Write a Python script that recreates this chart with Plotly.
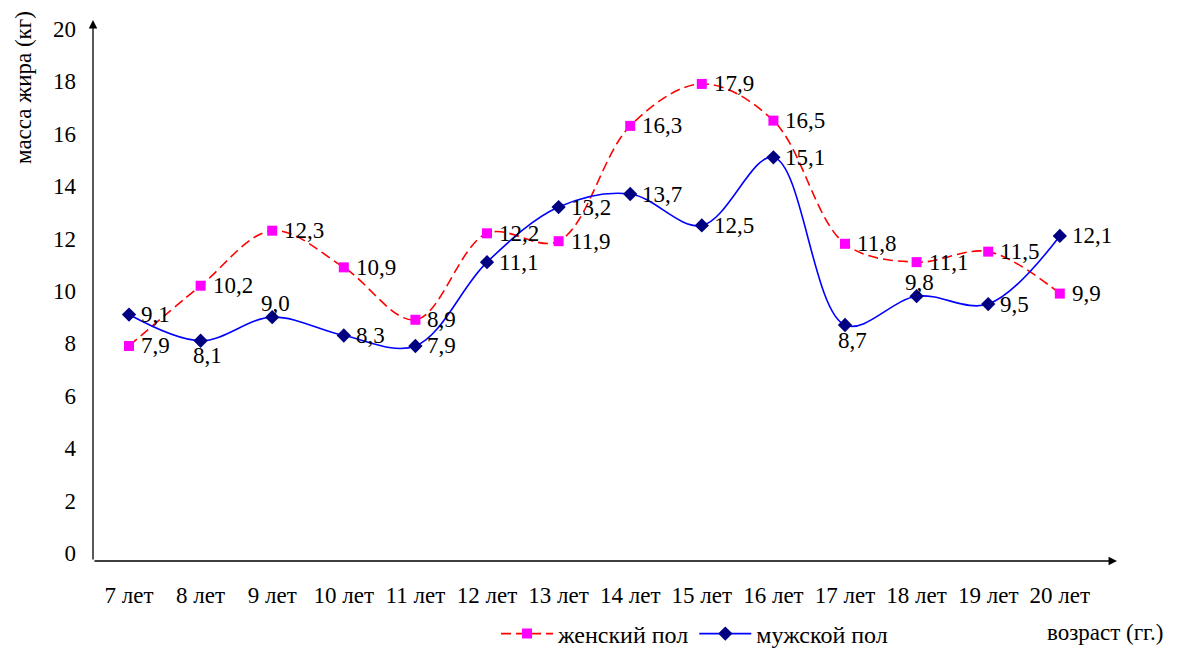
import plotly.graph_objects as go

# Возраст (категории оси X)
ages = ["7 лет", "8 лет", "9 лет", "10 лет", "11 лет", "12 лет", "13 лет",
        "14 лет", "15 лет", "16 лет", "17 лет", "18 лет", "19 лет", "20 лет"]

# Масса жира, кг
female = [7.9, 10.2, 12.3, 10.9, 8.9, 12.2, 11.9, 16.3, 17.9, 16.5, 11.8, 11.1, 11.5, 9.9]
male = [9.1, 8.1, 9.0, 8.3, 7.9, 11.1, 13.2, 13.7, 12.5, 15.1, 8.7, 9.8, 9.5, 12.1]

y_ticks = [0, 2, 4, 6, 8, 10, 12, 14, 16, 18, 20]

# Положение подписей значений: r — справа, t — сверху, b — снизу
female_pos = ["r"] * len(female)
male_pos = ["r"] * len(male)
male_pos[1] = "b"
male_pos[2] = "t"
male_pos[10] = "b"
male_pos[11] = "t"

FONT = "Liberation Serif, Times New Roman, serif"
FS = 23


def fmt(v):
    return f"{v:.1f}".replace(".", ",")


fig = go.Figure()

fig.add_trace(go.Scatter(
    x=ages, y=female, name="женский пол",
    mode="lines+markers",
    line=dict(color="#FF0000", width=1.6, dash="10px,5px", shape="spline", smoothing=1.0),
    marker=dict(symbol="square", size=10, color="#FF00FF"),
))

fig.add_trace(go.Scatter(
    x=ages, y=male, name="мужской пол",
    mode="lines+markers",
    line=dict(color="#0000FF", width=1.6, shape="spline", smoothing=1.0),
    marker=dict(symbol="diamond", size=11, color="#000080"),
))

# Подписи значений у точек
for series, positions in ((female, female_pos), (male, male_pos)):
    for age, v, p in zip(ages, series, positions):
        if p == "r":
            kw = dict(xanchor="left", yanchor="middle", xshift=11, yshift=0)
        elif p == "t":
            kw = dict(xanchor="center", yanchor="middle", xshift=3, yshift=14)
        else:
            kw = dict(xanchor="center", yanchor="middle", xshift=7, yshift=-15)
        fig.add_annotation(
            x=age, y=v, xref="x", yref="y", text=fmt(v), showarrow=False,
            font=dict(family=FONT, size=FS, color="black"),
            borderpad=0, **kw,
        )

L, R, T, B = 93, 62, 20, 88
W, H = 1179, 649
pw = W - L - R
ph = H - T - B

x_lo = -0.503
x_hi = x_lo + pw / 71.6
y_lo, y_hi = -0.305, 20.34

fig.update_layout(
    width=W, height=H,
    margin=dict(l=L, r=R, t=T, b=B, autoexpand=False),
    paper_bgcolor="white", plot_bgcolor="white",
    font=dict(family=FONT, size=FS, color="black"),
    showlegend=True,
    legend=dict(
        orientation="h", x=(496 - L) / pw, xanchor="left",
        y=(H - B - 634) / ph, yanchor="middle",
        font=dict(family=FONT, size=24, color="black"),
        itemwidth=52, tracegroupgap=0, bgcolor="rgba(0,0,0,0)",
    ),
    xaxis=dict(
        type="category", range=[x_lo, x_hi], automargin=False,
        showgrid=False, zeroline=False, showline=False,
        ticks="", ticklabelstandoff=18,
        tickfont=dict(family=FONT, size=FS),
    ),
    yaxis=dict(
        range=[y_lo, y_hi], tickvals=y_ticks, automargin=False,
        showgrid=False, zeroline=False, showline=False,
        ticks="", ticklabelstandoff=16,
        tickfont=dict(family=FONT, size=FS),
    ),
)

# Оси со стрелками
fig.add_annotation(
    xref="paper", yref="paper", x=1.0, y=0.0, ax=-pw, ay=0,
    axref="pixel", ayref="pixel", text="", showarrow=True,
    arrowhead=2, arrowsize=1.3, arrowwidth=1.3, arrowcolor="black",
)
fig.add_annotation(
    xref="paper", yref="paper", x=0.0, y=1.0, ax=0, ay=ph,
    axref="pixel", ayref="pixel", text="", showarrow=True,
    arrowhead=2, arrowsize=1.3, arrowwidth=1.3, arrowcolor="black",
)

# Подписи осей
fig.add_annotation(
    xref="paper", yref="paper", x=(23 - L) / pw, y=(H - B - 88) / ph,
    text="масса жира (кг)", textangle=-90, showarrow=False,
    font=dict(family=FONT, size=FS, color="black"),
    xanchor="center", yanchor="middle",
)
fig.add_annotation(
    xref="paper", yref="paper", x=(1105 - L) / pw, y=(H - B - 632) / ph,
    text="возраст (гг.)", showarrow=False,
    font=dict(family=FONT, size=FS, color="black"),
    xanchor="center", yanchor="middle",
)

fig.write_html("out.html")
